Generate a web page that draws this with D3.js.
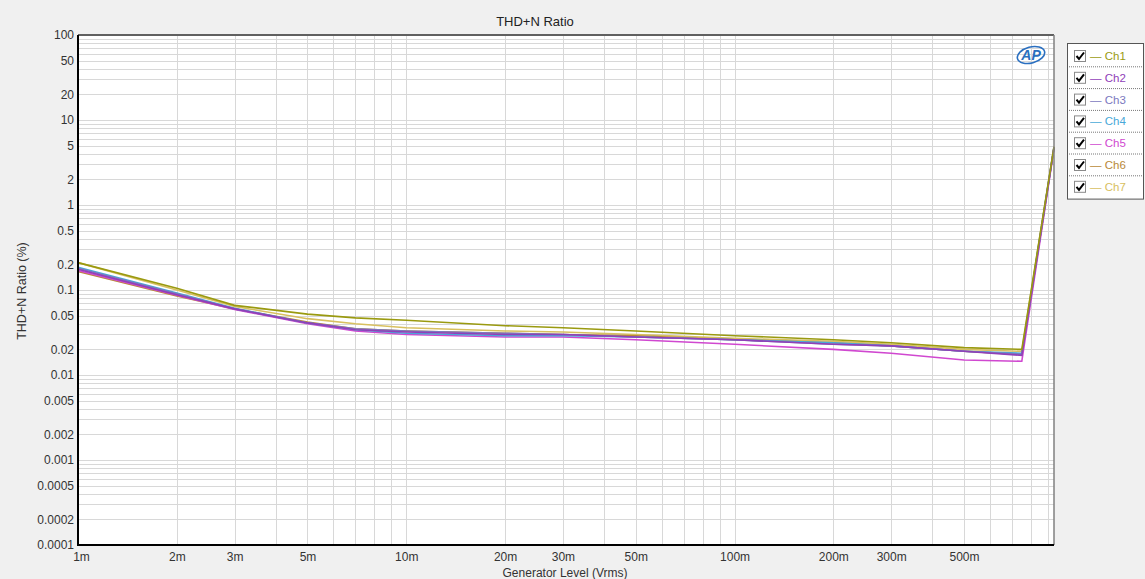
<!DOCTYPE html>
<html>
<head>
<meta charset="utf-8">
<script src="https://cdn.jsdelivr.net/npm/d3@7"></script>
<style>
  body { margin: 0; background: #f0f0f0; }
  svg { display: block; font-family: "Liberation Sans", Arial, sans-serif; }
</style>
</head>
<body>
<div id="chart"></div>
<script>
// generator level (Vrms)
var levels = [0.001, 0.002, 0.003, 0.005, 0.007, 0.01, 0.02, 0.03, 0.05, 0.1, 0.2, 0.3, 0.5, 0.75, 0.94];

var channels = ["Ch1", "Ch2", "Ch3", "Ch4", "Ch5", "Ch6", "Ch7"];
var colors = ["#9a9a10", "#9040b8", "#7c78c0", "#48a8d8", "#d048d0", "#b88838", "#d8c060"];

// THD+N ratio (%) per channel
var ch1 = [0.21, 0.105, 0.066, 0.052, 0.047, 0.044, 0.038, 0.036, 0.033, 0.029, 0.026, 0.024, 0.021, 0.020, 4.8];
var ch2 = [0.175, 0.088, 0.060, 0.041, 0.034, 0.032, 0.030, 0.030, 0.028, 0.026, 0.023, 0.022, 0.019, 0.017, 4.7];
var ch3 = [0.18, 0.090, 0.060, 0.041, 0.035, 0.033, 0.031, 0.030, 0.028, 0.026, 0.023, 0.022, 0.019, 0.0175, 4.75];
var ch4 = [0.185, 0.092, 0.061, 0.041, 0.034, 0.031, 0.029, 0.029, 0.028, 0.026, 0.024, 0.022, 0.019, 0.018, 4.8];
var ch5 = [0.17, 0.087, 0.059, 0.040, 0.033, 0.030, 0.028, 0.028, 0.026, 0.023, 0.020, 0.018, 0.015, 0.0145, 4.6];
var ch6 = [0.165, 0.085, 0.060, 0.042, 0.035, 0.033, 0.031, 0.030, 0.029, 0.026, 0.024, 0.022, 0.019, 0.0175, 4.7];
var ch7 = [0.21, 0.100, 0.064, 0.046, 0.040, 0.036, 0.033, 0.032, 0.030, 0.027, 0.025, 0.023, 0.020, 0.019, 4.9];
var series = [ch1, ch2, ch3, ch4, ch5, ch6, ch7];

var xTicks = [0.001, 0.002, 0.003, 0.005, 0.01, 0.02, 0.03, 0.05, 0.1, 0.2, 0.3, 0.5];
var xTickLabels = ["1m", "2m", "3m", "5m", "10m", "20m", "30m", "50m", "100m", "200m", "300m", "500m"];
var yTicks = [100, 50, 20, 10, 5, 2, 1, 0.5, 0.2, 0.1, 0.05, 0.02, 0.01, 0.005, 0.002, 0.001, 0.0005, 0.0002, 0.0001];

var W = 1145, H = 579;
var m = {left: 78, right: 1054, top: 35, bottom: 545};

var svg = d3.select("#chart").append("svg").attr("width", W).attr("height", H);
svg.append("rect").attr("width", W).attr("height", H).attr("fill", "#f0f0f0");

var x = d3.scaleLog().domain([0.001, 0.94]).range([m.left, m.right]);
var y = d3.scaleLog().domain([0.0001, 100]).range([m.bottom, m.top]);

// plot background
svg.append("rect")
    .attr("x", m.left).attr("y", m.top)
    .attr("width", m.right - m.left).attr("height", m.bottom - m.top)
    .attr("fill", "#ffffff");

// grid
var xGrid = [], yGrid = [];
for (var e = -3; e < 0; e++) for (var k = 1; k < 10; k++) {
    var v = k * Math.pow(10, e);
    if (v > 0.001 && v < 0.94) xGrid.push(v);
}
for (var e2 = -4; e2 < 2; e2++) for (var k2 = 1; k2 < 10; k2++) {
    var v2 = k2 * Math.pow(10, e2);
    if (v2 > 0.0001) yGrid.push(v2);
}
var grid = svg.append("g").attr("stroke", "#d8d8d8").attr("stroke-width", 1).attr("shape-rendering", "crispEdges");
grid.selectAll(".gx").data(xGrid).join("line")
    .attr("x1", d => Math.round(x(d)) + 0.5).attr("x2", d => Math.round(x(d)) + 0.5)
    .attr("y1", m.top).attr("y2", m.bottom);
grid.selectAll(".gy").data(yGrid).join("line")
    .attr("y1", d => Math.round(y(d)) + 0.5).attr("y2", d => Math.round(y(d)) + 0.5)
    .attr("x1", m.left).attr("x2", m.right);

// AP logo
var logo = svg.append("g").attr("transform", "translate(1031,55)");
logo.append("ellipse").attr("rx", 14).attr("ry", 8).attr("fill", "none")
    .attr("stroke", "#2a6fc0").attr("stroke-width", 1.6).attr("transform", "rotate(-15)");
logo.append("text").attr("text-anchor", "middle").attr("y", 5)
    .attr("font-size", 14).attr("font-weight", "bold").attr("font-style", "italic")
    .attr("fill", "#2a6fc0").text("AP");

// lines
var line = d3.line().x((d, i) => x(levels[i])).y(d => y(d));
svg.append("g").selectAll("path").data(series.slice().reverse()).join("path")
    .attr("d", d => line(d))
    .attr("fill", "none")
    .attr("stroke", (d, i) => colors[series.length - 1 - i])
    .attr("stroke-width", 1.6);

// frame
svg.append("line").attr("x1", m.left).attr("x2", m.right).attr("y1", m.top).attr("y2", m.top)
    .attr("stroke", "#606060").attr("stroke-width", 2);
svg.append("line").attr("x1", m.right).attr("x2", m.right).attr("y1", m.top).attr("y2", m.bottom)
    .attr("stroke", "#808080").attr("stroke-width", 1.5);
svg.append("line").attr("x1", m.left).attr("x2", m.left).attr("y1", m.top).attr("y2", m.bottom + 1)
    .attr("stroke", "#000").attr("stroke-width", 2);
svg.append("line").attr("x1", m.left - 1).attr("x2", m.right).attr("y1", m.bottom).attr("y2", m.bottom)
    .attr("stroke", "#000").attr("stroke-width", 2);

// axes
var xAxis = d3.axisBottom(x).tickValues(xTicks).tickFormat((d, i) => xTickLabels[i]).tickSize(0).tickPadding(7);
var gx = svg.append("g").attr("transform", "translate(0," + m.bottom + ")").call(xAxis);
gx.select(".domain").remove();
gx.selectAll("text").attr("font-size", 12).attr("fill", "#333")
    .attr("font-family", "'Liberation Sans', Arial, sans-serif");
gx.selectAll(".tick").filter(d => d === 0.001).select("text").attr("dx", 3);

var yAxis = d3.axisLeft(y).tickValues(yTicks).tickFormat(d => String(d)).tickSize(0).tickPadding(4);
var gy = svg.append("g").attr("transform", "translate(" + m.left + ",0)").call(yAxis);
gy.select(".domain").remove();
gy.selectAll("text").attr("font-size", 12).attr("fill", "#333")
    .attr("font-family", "'Liberation Sans', Arial, sans-serif");

// titles
svg.append("text").attr("x", 535).attr("y", 26).attr("text-anchor", "middle")
    .attr("font-size", 13).attr("fill", "#222").text("THD+N Ratio");
svg.append("text").attr("x", 565).attr("y", 577).attr("text-anchor", "middle")
    .attr("font-size", 12).attr("fill", "#333").text("Generator Level (Vrms)");
svg.append("text").attr("transform", "translate(26,291) rotate(-90)").attr("text-anchor", "middle")
    .attr("font-size", 12.5).attr("fill", "#333").text("THD+N Ratio (%)");

// legend
var lg = svg.append("g").attr("transform", "translate(1067,43)");
var rowH = 21.8;
lg.append("rect").attr("x", 0.5).attr("y", 0.5).attr("width", 76).attr("height", rowH * 7 + 3)
    .attr("fill", "#fff").attr("stroke", "#555");
var rows = lg.selectAll(".row").data(channels).join("g")
    .attr("transform", (d, i) => "translate(0," + (2 + i * rowH) + ")");
rows.filter((d, i) => i > 0).append("line")
    .attr("x1", 2).attr("x2", 75).attr("y1", 0).attr("y2", 0)
    .attr("stroke", "#777").attr("stroke-dasharray", "1,1");
rows.append("rect").attr("x", 7.5).attr("y", 5.5).attr("width", 11).attr("height", 11)
    .attr("fill", "#fff").attr("stroke", "#8a8a8a");
rows.append("path").attr("d", "M9.5 11 L12 14 L17 7.5").attr("fill", "none")
    .attr("stroke", "#000").attr("stroke-width", 2);
rows.append("text").attr("x", 23).attr("y", 15).attr("font-size", 11.5)
    .attr("fill", (d, i) => colors[i]).text(d => "\u2014 " + d);
</script>
</body>
</html>
